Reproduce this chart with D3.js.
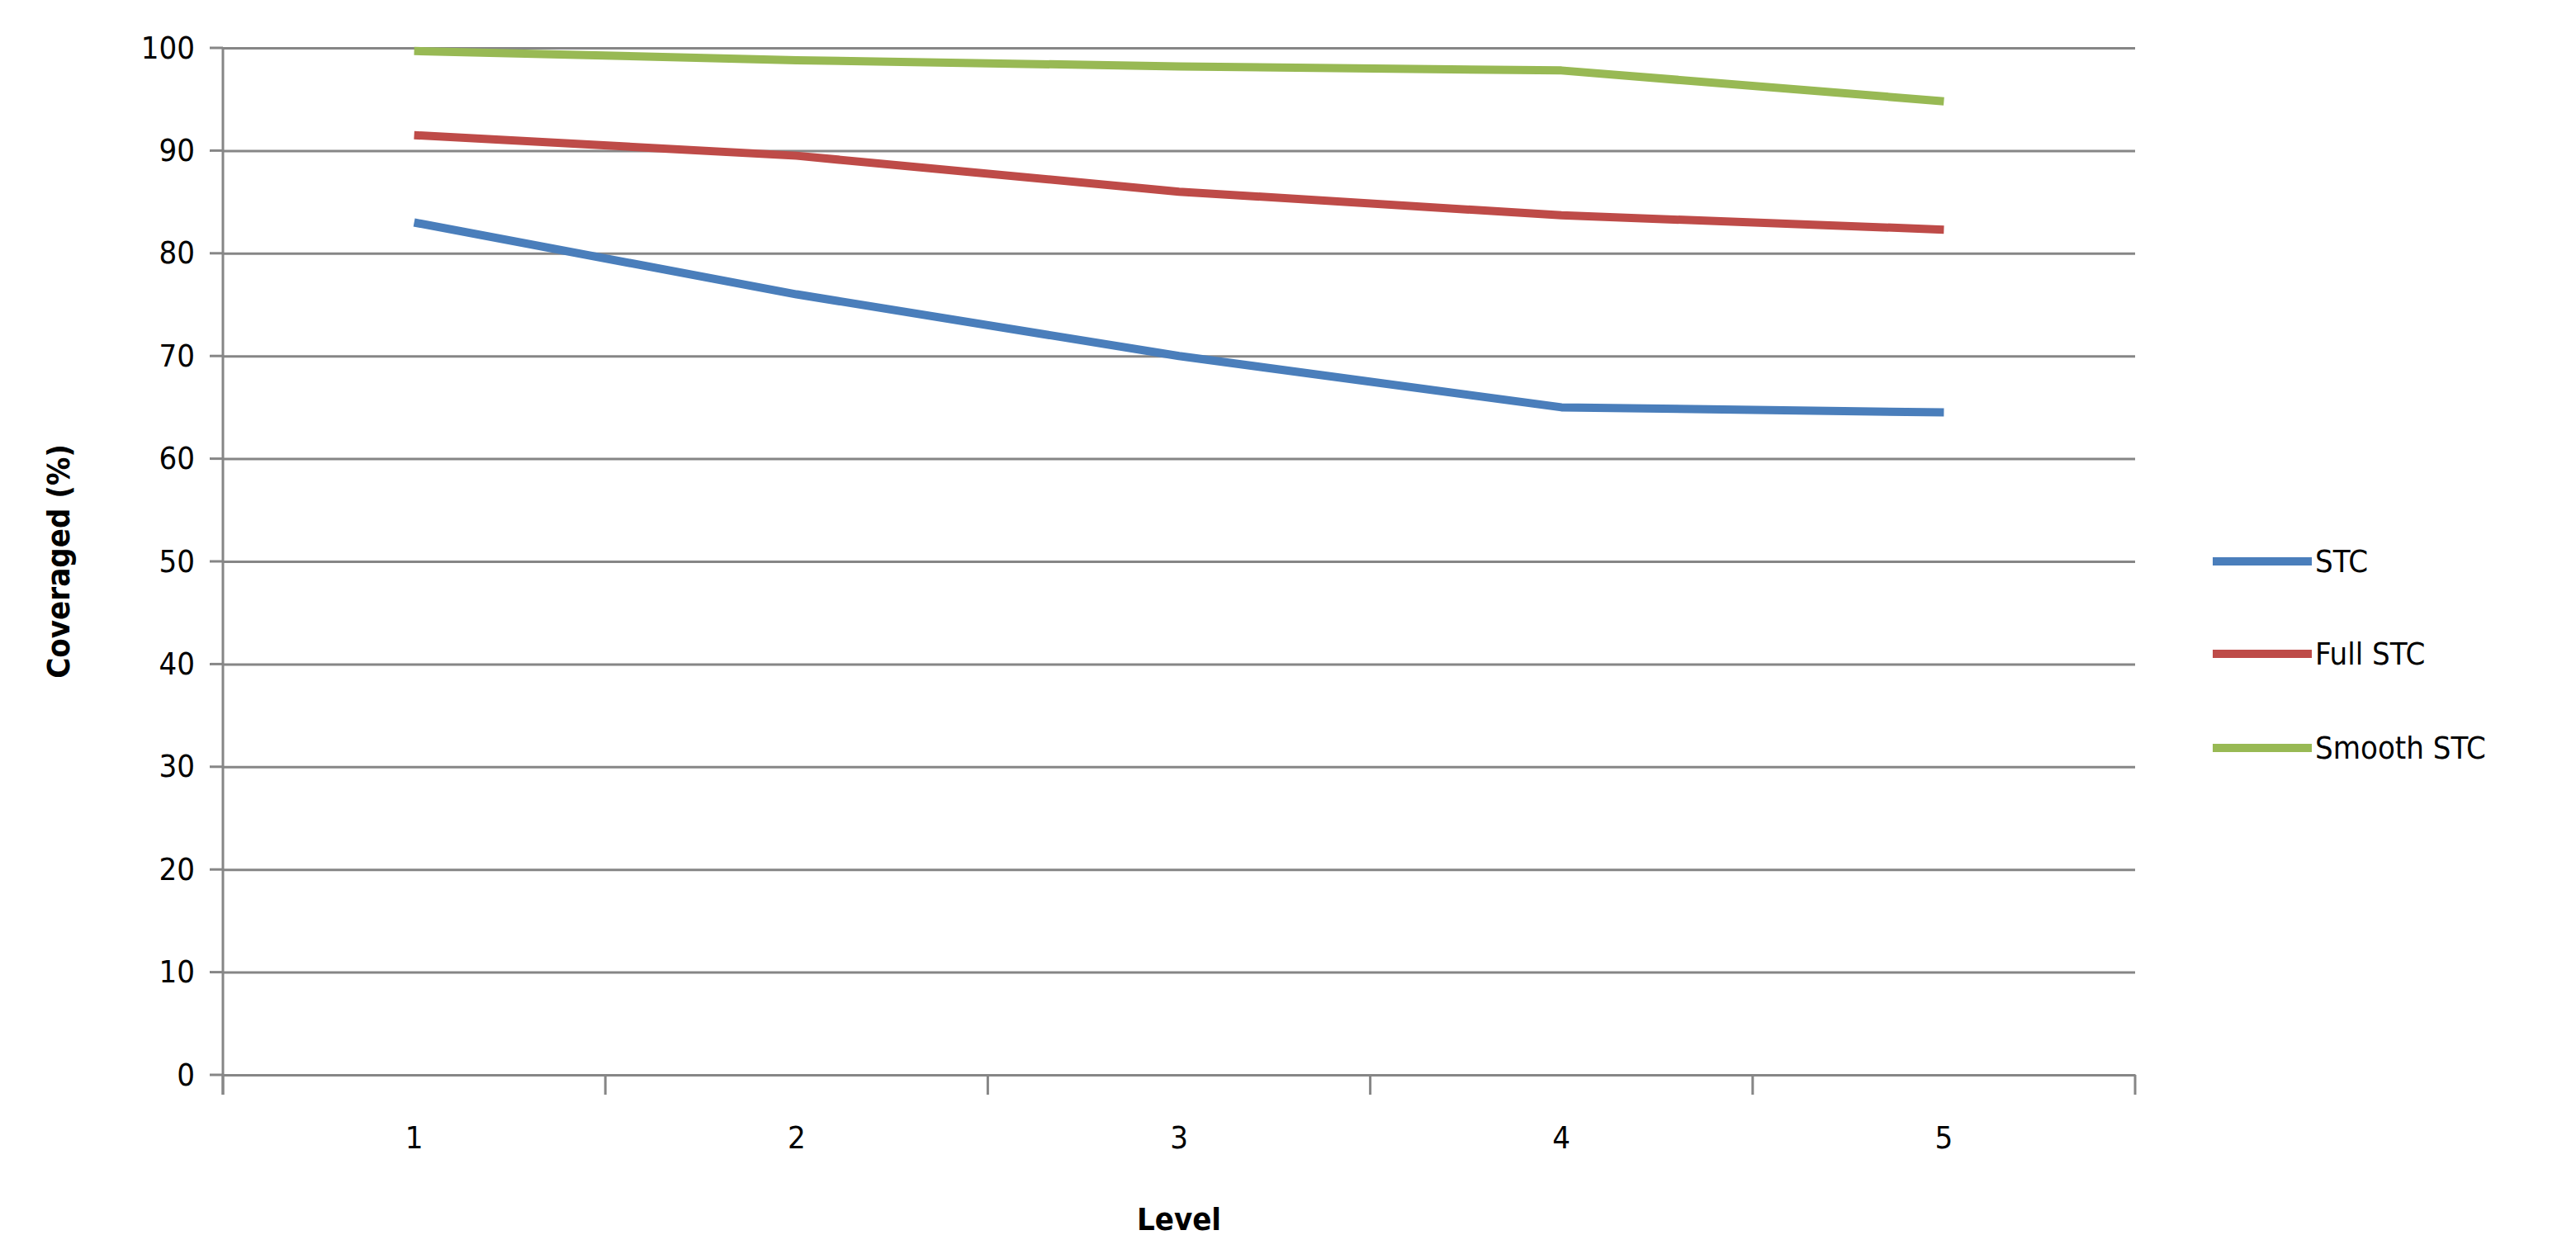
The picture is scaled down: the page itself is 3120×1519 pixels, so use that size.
<!DOCTYPE html>
<html><head><meta charset="utf-8">
<script src="https://cdn.jsdelivr.net/npm/d3@7"></script>
<style>body{margin:0;background:#fff}text{font-family:"DejaVu Sans Condensed","Liberation Sans Narrow",sans-serif;fill:#000}</style>
</head><body><div id="graph"></div>
<script>
const levels = [1, 2, 3, 4, 5]
const seriesNames = ['STC', 'Full STC', 'Smooth STC']
const stc = [83, 76, 70, 65, 64.5]
const fullStc = [91.5, 89.5, 86, 83.7, 82.3]
const smoothStc = [99.7, 98.8, 98.2, 97.8, 94.8]
const yTicks = [0, 10, 20, 30, 40, 50, 60, 70, 80, 90, 100]
const colours = ['#4a7ebb', '#be4b48', '#98b954']

const W = 3120, H = 1519
const pLeft = 270, pRight = 2586, pTop = 58, pBottom = 1302

const svg = d3.select('#graph').append('svg').attr('width', W).attr('height', H)

const x = d3.scaleBand().domain(levels).range([pLeft, pRight])
const y = d3.scaleLinear().domain([0, 100]).range([pBottom, pTop])

// gridlines
svg.append('g').attr('transform', 'translate(' + pLeft + ',0)')
    .call(d3.axisLeft(y).tickValues(yTicks).tickSize(-(pRight - pLeft)).tickPadding(34).tickFormat(d3.format('d')))
    .call(g => g.select('.domain').remove())
    .call(g => g.selectAll('line').attr('stroke', '#868686').attr('stroke-width', 3))
    .call(g => g.selectAll('text').attr('font-size', 38))

// left axis line + ticks
svg.append('line').attr('x1', pLeft).attr('x2', pLeft).attr('y1', pTop).attr('y2', pBottom + 24)
    .attr('stroke', '#868686').attr('stroke-width', 3)
svg.append('g').selectAll('line').data(yTicks).join('line')
    .attr('x1', pLeft - 16).attr('x2', pLeft).attr('y1', d => y(d)).attr('y2', d => y(d))
    .attr('stroke', '#868686').attr('stroke-width', 3)

// x axis
svg.append('g').attr('transform', 'translate(0,' + pBottom + ')')
    .call(d3.axisBottom(x).tickSize(0).tickPadding(62))
    .call(g => g.select('.domain').attr('stroke', '#868686').attr('stroke-width', 3))
    .call(g => g.selectAll('text').attr('font-size', 38))
svg.append('g').selectAll('line').data(levels.concat([6])).join('line')
    .attr('x1', (d, i) => pLeft + i * x.bandwidth()).attr('x2', (d, i) => pLeft + i * x.bandwidth())
    .attr('y1', pBottom).attr('y2', pBottom + 24)
    .attr('stroke', '#868686').attr('stroke-width', 3)

svg.append('text').attr('x', (pLeft + pRight) / 2).attr('y', 1490).attr('text-anchor', 'middle')
    .attr('font-size', 38).attr('font-weight', 'bold').text('Level')
svg.append('text').attr('transform', 'translate(84,' + (pTop + pBottom) / 2 + ') rotate(-90)')
    .attr('text-anchor', 'middle').attr('font-size', 38).attr('font-weight', 'bold').text('Coveraged  (%)')

const all = [stc, fullStc, smoothStc]
const line = d3.line().x((d, i) => x(levels[i]) + x.bandwidth() / 2).y(d => y(d))
svg.append('g').selectAll('path').data(all).join('path')
    .attr('d', line).attr('fill', 'none')
    .attr('stroke', (d, i) => colours[i]).attr('stroke-width', 10).attr('stroke-linejoin', 'round')

const leg = svg.append('g').selectAll('g').data(seriesNames).join('g')
    .attr('transform', (d, i) => 'translate(2680,' + [680, 792, 906][i] + ')')
leg.append('line').attr('x1', 0).attr('x2', 120).attr('stroke', (d, i) => colours[i]).attr('stroke-width', 10)
leg.append('text').attr('x', 124).attr('dy', '0.35em').attr('font-size', 38).text(d => d)
</script></body></html>
